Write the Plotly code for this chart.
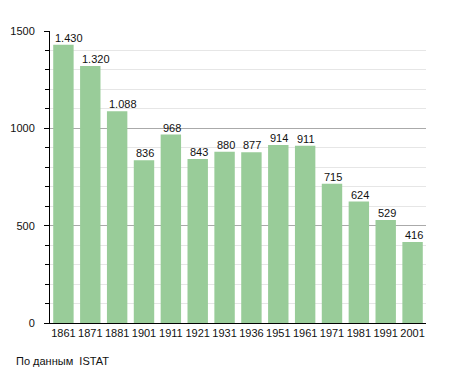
import plotly.graph_objects as go

years = ["1861", "1871", "1881", "1901", "1911", "1921", "1931", "1936",
         "1951", "1961", "1971", "1981", "1991", "2001"]
population = [1430, 1320, 1088, 836, 968, 843, 880, 877, 914, 911, 715, 624, 529, 416]
y_ticks = [0, 500, 1000, 1500]
source_text = "По данным  ISTAT"

FONT = "Liberation Sans, Arial"

def fmt(v):
    return f"{v:,}".replace(",", ".")

fig = go.Figure()
fig.add_trace(go.Bar(
    x=years, y=population,
    marker=dict(color="#99cc99", line=dict(width=0)),
    hoverinfo="x+y",
))

for i, v in enumerate(population):
    fig.add_annotation(
        x=i, y=v, text=fmt(v), showarrow=False,
        xanchor="left", yanchor="bottom", xshift=-10, yshift=-1,
        font=dict(family=FONT, size=11, color="#111"),
    )

PLOT_W, PLOT_H = 376.0, 292.0
fig.add_annotation(
    xref="paper", yref="paper",
    x=(14 - 50) / PLOT_W, y=-(361 - 323) / PLOT_H,
    xanchor="left", yanchor="middle",
    text=source_text, showarrow=False,
    font=dict(family=FONT, size=11, color="#111"),
)

# page body adds an 8px offset, so the figure is drawn 8px smaller
fig.update_layout(
    width=447, height=365,
    margin=dict(l=42, r=29, t=23, b=50, autoexpand=False),
    paper_bgcolor="white", plot_bgcolor="white",
    bargap=0.24,
    showlegend=False,
    font=dict(family=FONT, size=11, color="#111"),
)
fig.update_xaxes(
    type="category", range=[-0.5, len(years) - 0.5],
    showline=True, linecolor="black", linewidth=1,
    ticks="", tickfont=dict(size=11), tickangle=0,
    automargin=False,
    showgrid=False,
)
fig.update_yaxes(
    range=[0, 1500], tickvals=y_ticks,
    showline=True, linecolor="black", linewidth=1,
    ticks="outside", ticklen=5, tickcolor="black",
    ticklabelstandoff=7, automargin=False,
    showgrid=True, gridcolor="#aaaaaa", gridwidth=1,
    zeroline=False,
    tickfont=dict(size=11),
    minor=dict(dtick=100, showgrid=True, gridcolor="#e6e6e6",
               ticks="outside", ticklen=4, tickcolor="black"),
)

fig.write_html("out.html")
